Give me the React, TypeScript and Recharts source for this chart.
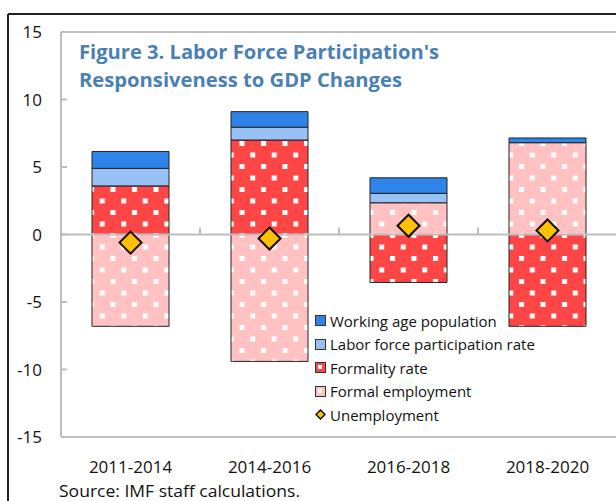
import { ComposedChart, Bar, Line, XAxis, YAxis, ReferenceLine } from 'recharts';

const periods = ['2011-2014', '2014-2016', '2016-2018', '2018-2020'];
const workingAge = [1.25, 1.15, 1.15, 0.35];
const laborForce = [1.3, 0.95, 0.7, 0];
const formalityRate = [3.6, 7.0, -3.55, -6.8];
const formalEmployment = [-6.8, -9.4, 2.35, 6.8];
const unemployment = [-0.6, -0.3, 0.65, 0.3];
const yTicks = [-15, -10, -5, 0, 5, 10, 15];

const data = periods.map((p, i) => ({
  period: p,
  workingAge: workingAge[i],
  laborForce: laborForce[i],
  formalityRate: formalityRate[i],
  formalEmployment: formalEmployment[i],
  unemployment: unemployment[i],
}));

const FONT = '"Open Sans", sans-serif';
const AXIS_GRAY = '#BDBDBD';
const BLUE = '#2E84E8';
const LIGHT_BLUE = '#98C2F5';
const RED = '#FF4646';
const PINK = '#FFC1C1';
const GOLD = '#FFC000';

const legendItems = [
  { name: 'Working age population', kind: 'box', fill: BLUE },
  { name: 'Labor force participation rate', kind: 'box', fill: LIGHT_BLUE },
  { name: 'Formality rate', kind: 'dot', fill: RED },
  { name: 'Formal employment', kind: 'dot', fill: PINK },
  { name: 'Unemployment', kind: 'diamond', fill: GOLD },
];

const YTick = (props: any) => {
  const { x, y, payload } = props;
  return (
    <g>
      <line x1={x} x2={x + 6} y1={y} y2={y} stroke={AXIS_GRAY} strokeWidth={2} />
      <text x={x - 19} y={y} dy={6} textAnchor="end" fontFamily={FONT} fontSize={17} fill="#111">
        {payload.value}
      </text>
    </g>
  );
};

// zero line with the small category separators sitting on it
const ZeroLine = (props: any) => {
  const { x1, x2, y1 } = props;
  const step = (x2 - x1) / periods.length;
  return (
    <g>
      <line x1={x1} x2={x2} y1={y1} y2={y1} stroke={AXIS_GRAY} strokeWidth={2} />
      {periods.slice(1).map((_, i) => (
        <line key={i} x1={x1 + step * (i + 1)} x2={x1 + step * (i + 1)} y1={y1} y2={y1 - 7} stroke={AXIS_GRAY} strokeWidth={2} />
      ))}
    </g>
  );
};

const Diamond = (props: any) => {
  const { cx, cy, index } = props;
  const r = 11;
  return (
    <path
      key={index}
      d={`M${cx},${cy - r} L${cx + r},${cy} L${cx},${cy + r} L${cx - r},${cy} Z`}
      fill={GOLD}
      stroke="#111"
      strokeWidth={2}
    />
  );
};

const LegendIcon = ({ kind, fill }: { kind: string; fill: string }) => {
  if (kind === 'diamond') {
    return (
      <svg width={11} height={11} style={{ marginRight: 4 }}>
        <path d="M5.5,1 L10,5.5 L5.5,10 L1,5.5 Z" fill={fill} stroke="#111" strokeWidth={1.5} />
      </svg>
    );
  }
  return (
    <svg width={11} height={11} style={{ marginRight: 4 }}>
      <rect x={0.5} y={0.5} width={10} height={10} fill={fill} stroke="#333" strokeWidth={1} />
      {kind === 'dot' && <rect x={3} y={3} width={4} height={4} fill="#fff" />}
    </svg>
  );
};

export default function App() {
  return (
    <div style={{ position: 'fixed', left: 0, top: 0, width: 616, height: 501, overflow: 'hidden', background: '#fff' }}>
      <svg width={0} height={0} style={{ position: 'absolute' }}>
        <defs>
          <pattern id="dotsRed" width={21.5} height={23} patternUnits="userSpaceOnUse">
            <rect width={21.5} height={23} fill={RED} />
            <rect x={3} y={3} width={5} height={5} fill="#fff" />
            <rect x={13.75} y={14.5} width={5} height={5} fill="#fff" />
          </pattern>
          <pattern id="dotsPink" width={21.5} height={23} patternUnits="userSpaceOnUse">
            <rect width={21.5} height={23} fill={PINK} />
            <rect x={3} y={3} width={5} height={5} fill="#fff" />
            <rect x={13.75} y={14.5} width={5} height={5} fill="#fff" />
          </pattern>
        </defs>
      </svg>

      <div style={{ position: 'absolute', left: 0, top: 0 }}>
        <ComposedChart
          width={640}
          height={501}
          data={data}
          stackOffset="sign"
          margin={{ top: 32, right: 23, left: 0, bottom: 0 }}
        >
          <XAxis
            dataKey="period"
            height={64}
            tickLine={false}
            tickSize={0}
            tickMargin={24}
            axisLine={{ stroke: AXIS_GRAY, strokeWidth: 2 }}
            tick={{ fontFamily: FONT, fontSize: 17, fill: '#111' }}
          />
          <YAxis
            width={61}
            domain={[-15, 15]}
            ticks={yTicks}
            tickSize={0}
            tickMargin={0}
            tickLine={false}
            axisLine={{ stroke: AXIS_GRAY, strokeWidth: 2 }}
            tick={<YTick />}
          />
          <ReferenceLine y={15} stroke={AXIS_GRAY} strokeWidth={2} />
          <ReferenceLine y={0} shape={<ZeroLine />} />
          <Bar dataKey="formalityRate" name="Formality rate" stackId="a" barSize={77} fill="url(#dotsRed)" stroke="#222" strokeWidth={1} isAnimationActive={false} />
          <Bar dataKey="formalEmployment" name="Formal employment" stackId="a" barSize={77} fill="url(#dotsPink)" stroke="#222" strokeWidth={1} isAnimationActive={false} />
          <Bar dataKey="laborForce" name="Labor force participation rate" stackId="a" barSize={77} fill={LIGHT_BLUE} stroke="#222" strokeWidth={1} isAnimationActive={false} />
          <Bar dataKey="workingAge" name="Working age population" stackId="a" barSize={77} fill={BLUE} stroke="#222" strokeWidth={1} isAnimationActive={false} />
          <Line dataKey="unemployment" name="Unemployment" stroke="none" dot={<Diamond />} activeDot={false} isAnimationActive={false} />
        </ComposedChart>
      </div>

      <div style={{ position: 'absolute', left: 315, top: 309, fontFamily: FONT, fontSize: 15, color: '#111' }}>
        {legendItems.map((it) => (
          <div key={it.name} style={{ display: 'flex', alignItems: 'center', height: 23.5, whiteSpace: 'nowrap' }}>
            <LegendIcon kind={it.kind} fill={it.fill} />
            <span>{it.name}</span>
          </div>
        ))}
      </div>

      <svg width={616} height={501} style={{ position: 'absolute', left: 0, top: 0, pointerEvents: 'none' }}>
        <line x1={8} y1={14} x2={616} y2={14} stroke="#222" strokeWidth={2} />
        <line x1={8} y1={14} x2={8} y2={501} stroke="#222" strokeWidth={2} />
        <text x={79} y={59} fontFamily={FONT} fontWeight={700} fontSize={20} fill="#4A80B4" textLength={360} lengthAdjust="spacingAndGlyphs">
          Figure 3. Labor Force Participation's
        </text>
        <text x={79} y={87} fontFamily={FONT} fontWeight={700} fontSize={20} fill="#4A80B4" textLength={323} lengthAdjust="spacingAndGlyphs">
          Responsiveness to GDP Changes
        </text>
        <text x={59} y={497} fontFamily={FONT} fontSize={17} fill="#111" textLength={241} lengthAdjust="spacingAndGlyphs">
          Source: IMF staff calculations.
        </text>
      </svg>
    </div>
  );
}
